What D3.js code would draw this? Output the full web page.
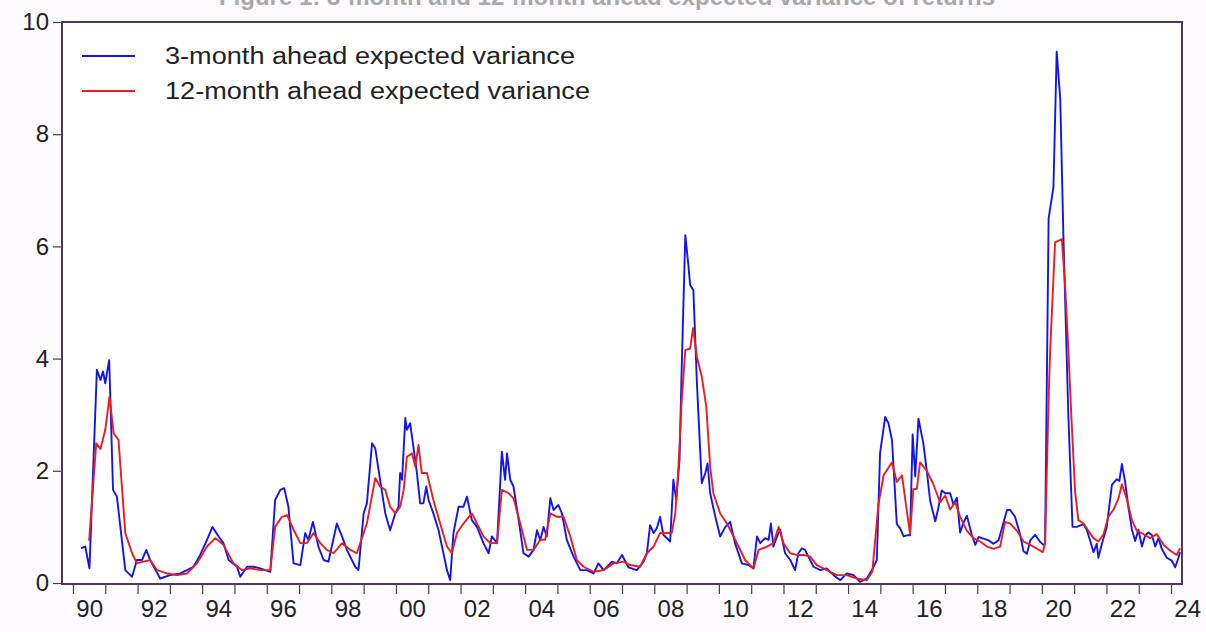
<!DOCTYPE html>
<html>
<head>
<meta charset="utf-8">
<script src="https://cdn.jsdelivr.net/npm/d3@7"></script>
<style>
  html, body { margin: 0; padding: 0; background: #fdfbfd; }
  svg { display: block; }
  text { font-family: "Liberation Sans", Arial, sans-serif; }
</style>
</head>
<body>
<svg id="chart" width="1206" height="632"></svg>
<script>
// ---- data (decimal years, monthly series) ----
const seriesNames = ["3-month ahead expected variance", "12-month ahead expected variance"];
const seriesColors = ["#1414f0", "#ee1c1c"];

const blueT = [1990.25,1990.38,1990.51,1990.74,1990.85,1990.93,1991.00,1991.05,1991.12,1991.15,
1991.24,1991.36,1991.62,1991.83,1991.98,1992.14,1992.27,1992.39,1992.70,1993.01,
1993.32,1993.53,1993.73,1993.94,1994.15,1994.32,1994.51,1994.66,1994.82,1995.08,
1995.18,1995.39,1995.59,1995.80,1996.11,1996.26,1996.42,1996.54,1996.67,1996.83,
1997.04,1997.19,1997.29,1997.43,1997.60,1997.76,1997.91,1998.17,1998.33,1998.48,
1998.74,1998.84,1999.00,1999.10,1999.26,1999.36,1999.51,1999.67,1999.82,1999.98,
2000.08,2000.13,2000.19,2000.29,2000.34,2000.44,2000.54,2000.65,2000.75,2000.85,
2000.94,2001.01,2001.16,2001.32,2001.47,2001.58,2001.68,2001.78,2001.94,2002.09,
2002.20,2002.35,2002.51,2002.71,2002.87,2002.97,2003.13,2003.28,2003.38,2003.44,
2003.54,2003.64,2003.80,2003.95,2004.11,2004.26,2004.37,2004.47,2004.57,2004.67,
2004.78,2004.88,2005.03,2005.14,2005.29,2005.50,2005.71,2005.91,2006.12,2006.27,
2006.43,2006.69,2006.84,2007.00,2007.20,2007.46,2007.67,2007.77,2007.87,2007.98,
2008.08,2008.18,2008.28,2008.49,2008.59,2008.68,2008.78,2008.85,2008.96,2009.06,
2009.11,2009.21,2009.32,2009.47,2009.58,2009.65,2009.73,2009.89,2010.04,2010.20,
2010.35,2010.50,2010.71,2010.92,2011.07,2011.18,2011.28,2011.43,2011.54,2011.61,
2011.69,2011.80,2011.90,2012.05,2012.21,2012.36,2012.46,2012.57,2012.67,2012.77,
2012.93,2013.14,2013.34,2013.55,2013.76,2013.96,2014.17,2014.37,2014.58,2014.74,
2014.89,2014.99,2015.15,2015.25,2015.36,2015.51,2015.61,2015.72,2015.82,2015.92,
2016.00,2016.08,2016.18,2016.33,2016.44,2016.54,2016.70,2016.80,2016.90,2017.01,
2017.16,2017.26,2017.37,2017.47,2017.57,2017.68,2017.83,2017.94,2018.04,2018.19,
2018.35,2018.50,2018.66,2018.81,2018.92,2019.02,2019.17,2019.33,2019.43,2019.54,
2019.64,2019.79,2019.95,2020.05,2020.10,2020.21,2020.36,2020.46,2020.57,2020.67,
2020.82,2020.95,2021.08,2021.29,2021.39,2021.50,2021.60,2021.70,2021.75,2021.86,
2022.01,2022.17,2022.32,2022.40,2022.48,2022.58,2022.68,2022.79,2022.89,2022.99,
2023.10,2023.20,2023.30,2023.41,2023.51,2023.61,2023.72,2023.87,2024.02,2024.13,
2024.23,2024.28];

const blueV = [0.62,0.65,0.26,3.80,3.62,3.77,3.56,3.74,3.97,3.44,
1.66,1.54,0.23,0.11,0.41,0.41,0.59,0.41,0.08,0.14,
0.17,0.23,0.29,0.50,0.77,1.00,0.83,0.71,0.41,0.29,
0.11,0.29,0.29,0.26,0.20,1.48,1.66,1.69,1.36,0.35,
0.32,0.89,0.77,1.09,0.65,0.41,0.38,1.06,0.83,0.59,
0.29,0.23,1.24,1.42,2.49,2.40,1.84,1.24,0.94,1.24,
1.36,1.96,1.84,2.94,2.73,2.85,2.43,1.96,1.42,1.42,
1.72,1.48,1.24,0.94,0.53,0.23,0.05,0.89,1.36,1.36,
1.54,1.12,1.00,0.71,0.53,0.83,0.71,2.34,1.84,2.31,
1.84,1.72,1.12,0.53,0.47,0.59,0.94,0.76,1.00,0.83,
1.51,1.30,1.39,1.24,0.77,0.47,0.23,0.23,0.17,0.35,
0.23,0.38,0.35,0.50,0.28,0.23,0.38,0.53,1.03,0.89,
0.98,1.18,0.86,0.74,1.84,1.48,2.19,3.86,6.20,5.64,
5.31,5.22,3.56,1.78,1.96,2.13,1.60,1.18,0.83,1.00,
1.09,0.71,0.35,0.32,0.26,0.83,0.71,0.80,0.77,1.06,
0.65,0.83,0.95,0.53,0.41,0.23,0.53,0.62,0.59,0.47,
0.29,0.23,0.26,0.14,0.05,0.17,0.14,0.02,0.08,0.23,
0.41,2.31,2.96,2.85,2.55,1.05,0.98,0.83,0.85,0.85,
2.65,1.90,2.93,2.49,1.99,1.47,1.10,1.35,1.65,1.60,
1.60,1.40,1.52,0.90,1.07,1.20,0.86,0.68,0.82,0.79,
0.76,0.70,0.76,1.07,1.30,1.30,1.18,0.86,0.57,0.52,
0.76,0.86,0.73,0.68,0.70,6.50,7.06,9.47,8.63,6.13,
3.00,1.00,1.00,1.05,0.95,0.75,0.55,0.70,0.45,0.70,
1.00,1.75,1.85,1.82,2.12,1.80,1.35,0.95,0.75,0.95,
0.65,0.85,0.90,0.85,0.65,0.80,0.60,0.45,0.40,0.28,
0.45,0.55];

const redT = [1990.50,1990.72,1990.85,1991.00,1991.13,1991.26,1991.41,1991.62,1991.83,1991.98,
1992.19,1992.39,1992.60,1992.91,1993.22,1993.53,1993.84,1994.15,1994.41,1994.66,
1994.97,1995.23,1995.49,1995.80,1996.11,1996.26,1996.47,1996.63,1996.83,1997.04,
1997.24,1997.45,1997.66,1997.86,1998.07,1998.33,1998.59,1998.79,1999.10,1999.36,
1999.51,1999.67,1999.82,1999.98,2000.13,2000.24,2000.34,2000.50,2000.60,2000.70,
2000.80,2000.96,2001.16,2001.37,2001.58,2001.73,2001.89,2002.09,2002.35,2002.51,
2002.71,2002.92,2003.13,2003.28,2003.49,2003.64,2003.85,2004.06,2004.26,2004.47,
2004.62,2004.78,2004.98,2005.19,2005.40,2005.60,2005.81,2006.12,2006.43,2006.74,
2007.05,2007.25,2007.56,2007.77,2007.98,2008.18,2008.39,2008.54,2008.65,2008.75,
2008.85,2008.96,2009.11,2009.20,2009.32,2009.47,2009.61,2009.73,2009.83,2010.04,
2010.25,2010.40,2010.61,2010.81,2011.07,2011.23,2011.49,2011.69,2011.85,2012.00,
2012.21,2012.41,2012.62,2012.83,2013.03,2013.34,2013.65,2013.96,2014.27,2014.58,
2014.75,2014.94,2015.10,2015.36,2015.51,2015.67,2015.82,2015.92,2016.02,2016.13,
2016.23,2016.44,2016.64,2016.85,2017.01,2017.16,2017.32,2017.47,2017.68,2017.88,
2018.09,2018.30,2018.50,2018.71,2018.86,2019.02,2019.23,2019.43,2019.64,2019.85,
2020.03,2020.10,2020.21,2020.26,2020.41,2020.62,2020.72,2020.82,2020.92,2021.03,
2021.13,2021.29,2021.44,2021.60,2021.75,2021.91,2022.06,2022.22,2022.37,2022.48,
2022.63,2022.79,2022.94,2023.15,2023.35,2023.56,2023.77,2023.97,2024.18,2024.28];

const redV = [0.75,2.49,2.39,2.73,3.32,2.67,2.55,0.89,0.53,0.35,
0.38,0.41,0.23,0.17,0.14,0.17,0.35,0.65,0.80,0.68,
0.35,0.23,0.26,0.23,0.23,1.00,1.18,1.21,0.95,0.71,
0.71,0.89,0.71,0.59,0.53,0.71,0.59,0.53,1.06,1.87,
1.72,1.66,1.36,1.24,1.36,1.66,2.25,2.31,2.07,2.46,
1.96,1.96,1.48,1.06,0.65,0.53,0.89,1.06,1.24,1.06,
0.83,0.71,0.71,1.66,1.60,1.51,1.06,0.59,0.59,0.77,
0.77,1.24,1.18,1.18,0.83,0.41,0.29,0.20,0.23,0.35,
0.38,0.32,0.29,0.53,0.65,0.89,0.89,0.89,1.24,2.07,
3.26,4.15,4.18,4.54,4.03,3.68,3.14,2.07,1.60,1.24,
1.06,0.89,0.65,0.41,0.26,0.59,0.65,0.71,1.00,0.71,
0.53,0.50,0.50,0.47,0.32,0.23,0.14,0.14,0.08,0.05,
0.20,1.40,1.92,2.15,1.80,1.92,1.28,0.88,1.67,1.68,
2.15,2.00,1.76,1.44,1.56,1.31,1.44,1.18,0.93,0.80,
0.74,0.65,0.61,0.65,1.09,1.06,0.93,0.74,0.68,0.61,
0.55,0.70,3.30,4.17,6.07,6.13,5.31,4.17,2.90,1.63,
1.12,1.06,0.93,0.80,0.74,0.87,1.18,1.31,1.50,1.76,
1.50,1.12,0.93,0.87,0.80,0.87,0.68,0.58,0.50,0.62];

const yTicks = [0, 2, 4, 6, 8, 10];
const yearTicks = d3.range(1990, 2025);          // one tick per year
const yearLabels = d3.range(1990, 2025, 2);      // labelled every two years
const titleText = "Figure 1: 3-month and 12-month ahead expected variance of returns";

// ---- layout ----
const svg = d3.select("#chart");
const L = 62, T = 22, R = 1182, B = 584;

const x = d3.scaleLinear().domain([1989.66, 2024.34]).range([L, R]);
const y = d3.scaleLinear().domain([0, 10]).range([B - 1, T]);

svg.append("rect").attr("width", 1206).attr("height", 632).attr("fill", "#fdfbfd");

// title: the reference shows it clipped at the top edge of the picture
svg.append("text").attr("x", 607).attr("y", 5).attr("text-anchor", "middle")
  .attr("font-size", 24).attr("font-weight", "bold").attr("fill", "#a8a8a8")
  .text(titleText);

svg.append("rect").attr("x", L).attr("y", T).attr("width", R - L).attr("height", B - T)
  .attr("fill", "#ffffff");

svg.append("clipPath").attr("id", "clip").append("rect")
  .attr("x", L).attr("y", T).attr("width", R - L).attr("height", B - T);

const line = d3.line().x(d => x(d[0])).y(d => y(d[1]));
const blue = blueT.map((t, i) => [t, blueV[i]]);
const red = redT.map((t, i) => [t, redV[i]]);

const g = svg.append("g").attr("clip-path", "url(#clip)");
g.append("path").datum(blue).attr("d", line).attr("fill", "none")
  .attr("stroke", seriesColors[0]).attr("stroke-width", 1.9).attr("stroke-linejoin", "round");
g.append("path").datum(red).attr("d", line).attr("fill", "none")
  .attr("stroke", seriesColors[1]).attr("stroke-width", 1.9).attr("stroke-linejoin", "round");

// axes
const axisColor = "#4a3b5c";
const yAxis = svg.append("g").attr("transform", `translate(${L},0)`)
  .call(d3.axisLeft(y).tickValues(yTicks).tickSize(9).tickPadding(4).tickFormat(d3.format("d")));
yAxis.select(".domain").remove();
yAxis.selectAll("line").attr("stroke", axisColor).attr("stroke-width", 1.2);
yAxis.selectAll("text").attr("font-size", 24).attr("fill", "#222").attr("font-family", "Liberation Sans, Arial, sans-serif");

const xTickAxis = svg.append("g").attr("transform", `translate(0,${B})`)
  .call(d3.axisBottom(x).tickValues(yearTicks).tickSize(10).tickFormat(""));
xTickAxis.select(".domain").remove();
xTickAxis.selectAll("line").attr("stroke", axisColor).attr("stroke-width", 1.2);

const xLabAxis = svg.append("g").attr("transform", `translate(0,${B})`)
  .call(d3.axisBottom(x).tickValues(yearLabels.map(v => v + 0.5)).tickSize(0).tickPadding(16)
    .tickFormat(d => String(Math.floor(d)).slice(2)));
xLabAxis.select(".domain").remove();
xLabAxis.selectAll("text").attr("font-size", 24).attr("fill", "#222").attr("font-family", "Liberation Sans, Arial, sans-serif");

// frame
svg.append("rect").attr("x", L).attr("y", T).attr("width", R - L).attr("height", B - T)
  .attr("fill", "none").attr("stroke", axisColor).attr("stroke-width", 2);

// legend
const leg = svg.append("g");
seriesNames.forEach((name, i) => {
  const yy = 56 + i * 35;
  leg.append("line").attr("x1", 82).attr("x2", 135).attr("y1", yy).attr("y2", yy)
    .attr("stroke", seriesColors[i]).attr("stroke-width", 2);
  leg.append("text").attr("x", 165).attr("y", yy + 8).attr("font-size", 23).attr("fill", "#222")
    .attr("textLength", i === 0 ? 410 : 425).attr("lengthAdjust", "spacingAndGlyphs")
    .text(name);
});
</script>
</body>
</html>
